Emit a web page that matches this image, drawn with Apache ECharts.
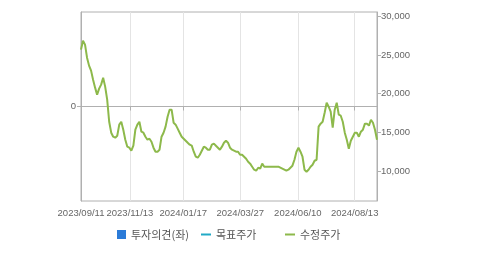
<!DOCTYPE html>
<html>
<head>
<meta charset="utf-8">
<script src="https://cdn.jsdelivr.net/npm/echarts@6/dist/echarts.min.js"></script>
<style>html,body{margin:0;padding:0;background:#fff}#c{width:479px;height:255px}</style>
</head>
<body>
<div id="c"></div>
<script>
// trading-day sample index positions of the date ticks
var tickIdx = [0, 24.3, 50.8, 79.1, 107.7, 135.9];
var tickLabels = ['2023/09/11', '2023/11/13', '2024/01/17', '2024/03/27', '2024/06/10', '2024/08/13'];
var priceTicks = [10000, 15000, 20000, 25000, 30000];
var opinionTicks = [0];
// 수정주가 (adjusted price), sampled evenly across the period
var price = [
25700,26860,26350,24660,23630,22980,21810,20780,19870,20650,
21170,22070,20910,19220,16370,14950,14430,14300,14560,15990,
16370,15340,14040,13140,13010,12620,13270,15340,15990,16370,
15080,14950,14430,14040,14170,13780,13010,12490,12490,12750,
14430,14950,15730,17020,17930,17930,16240,15990,15470,14950,
14430,14170,13910,13650,13400,13270,12490,11840,11710,12100,
12620,13140,13010,12750,12750,13400,13530,13270,13010,12750,
13140,13650,13910,13650,13010,12750,12620,12490,12490,12100,
12100,11840,11580,11190,10940,10550,10160,10030,10420,10290,
10940,10550,10550,10550,10550,10550,10550,10550,10550,10420,
10290,10160,10030,10160,10420,10680,11450,12490,13010,12490,
11840,10160,9900,10160,10550,10810,11320,11450,15730,16120,
16370,17540,18830,18320,17670,15600,17930,18830,17280,17150,
16370,14950,14040,12880,13910,14430,14950,14950,14430,15080,
15340,16120,16120,15860,16630,16240,15340,14040
];
var opinion = [];
var target = [];

var chart = echarts.init(document.getElementById('c'), null, {renderer: 'canvas'});
var labelFont = {color: '#666', fontSize: 9.5, fontFamily: 'Liberation Sans, Arial, sans-serif'};
var legendText = {color: '#555', fontSize: 11, fontFamily: 'Noto Sans CJK KR, sans-serif'};
chart.setOption({
  animation: false,
  grid: {left: 81, right: 102, top: 12, bottom: 54, show: true, borderColor: '#b0b0b0', borderWidth: 1, backgroundColor: 'transparent'},
  legend: [
    {data: ['투자의견(좌)'], left: 117, top: 229, padding: 0, icon: 'rect', itemWidth: 9, itemHeight: 9, itemGap: 0, textStyle: legendText},
    {data: ['목표주가'], left: 201, top: 229, padding: 0, icon: 'rect', itemWidth: 10, itemHeight: 2, itemGap: 0, textStyle: legendText},
    {data: ['수정주가'], left: 285, top: 229, padding: 0, icon: 'rect', itemWidth: 10, itemHeight: 2, itemGap: 0, textStyle: legendText}
  ],
  xAxis: {
    type: 'value', min: 0, max: price.length - 1,
    axisLine: {show: true, lineStyle: {color: '#b0b0b0'}},
    axisTick: {show: true, length: 4, customValues: tickIdx, lineStyle: {color: '#b0b0b0'}},
    axisLabel: Object.assign({customValues: tickIdx, margin: 7, showMinLabel: true,
      formatter: function (v) {
        for (var k = 0; k < tickIdx.length; k++) { if (Math.abs(tickIdx[k] - v) < 0.01) return tickLabels[k]; }
        return '';
      }}, labelFont),
    splitLine: {show: true, lineStyle: {color: '#e4e4e4'}}
  },
  yAxis: [
    {
      type: 'value', position: 'left', min: -1, max: 1,
      axisLine: {show: true, lineStyle: {color: '#b0b0b0'}},
      axisTick: {show: true, length: 4, customValues: opinionTicks, lineStyle: {color: '#b0b0b0'}},
      axisLabel: Object.assign({customValues: opinionTicks, margin: 5}, labelFont),
      splitLine: {show: true, lineStyle: {color: '#e4e4e4'}}
    },
    {
      type: 'value', position: 'right', min: 6110, max: 30570,
      axisLine: {show: true, lineStyle: {color: '#b0b0b0'}},
      axisTick: {show: true, length: 4, customValues: priceTicks, lineStyle: {color: '#b0b0b0'}},
      axisLabel: Object.assign({customValues: priceTicks, margin: 4,
        formatter: function (v) { return v.toLocaleString('en-US'); }}, labelFont),
      splitLine: {show: false}
    }
  ],
  series: [
    {name: '투자의견(좌)', type: 'bar', yAxisIndex: 0, data: opinion, itemStyle: {color: '#2b7bd8'}},
    {name: '목표주가', type: 'line', yAxisIndex: 1, data: target, itemStyle: {color: '#22aac6'}, lineStyle: {color: '#22aac6'}},
    {name: '수정주가', type: 'line', yAxisIndex: 1, showSymbol: false, symbol: 'none',
      data: price.map(function (v, i) { return [i, v]; }),
      itemStyle: {color: '#8db94b'}, lineStyle: {color: '#8db94b', width: 2}}
  ]
});
</script>
</body>
</html>
